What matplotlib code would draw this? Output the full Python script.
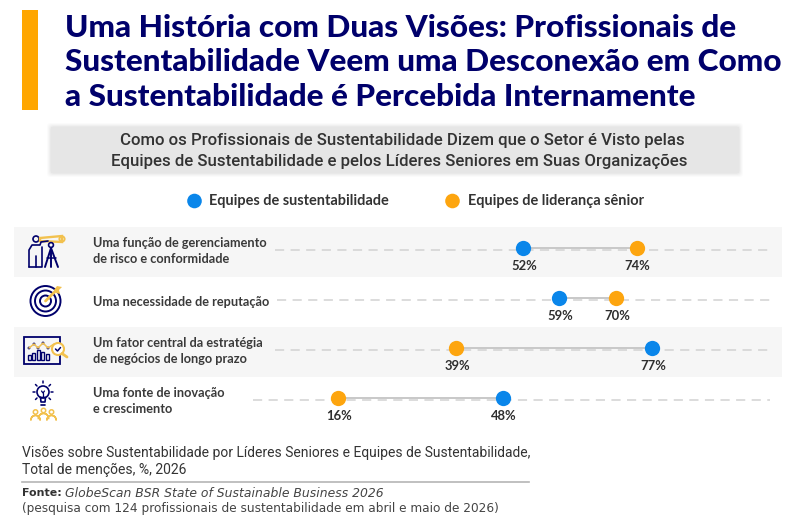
import matplotlib
matplotlib.use("Agg")
import matplotlib.pyplot as plt
from matplotlib.patches import Rectangle, Circle, FancyBboxPatch, Polygon, Wedge

# ---- data ----
categories = ["Uma função de gerenciamento\nde risco e conformidade",
              "Uma necessidade de reputação",
              "Um fator central da estratégia\nde negócios de longo prazo",
              "Uma fonte de inovação\ne crescimento"]
sustainability = [52, 59, 77, 48]
leadership = [74, 70, 39, 16]
series_names = ["Equipes de sustentabilidade", "Equipes de liderança sênior"]
title_lines = ["Uma História com Duas Visões: Profissionais de",
               "Sustentabilidade Veem uma Desconexão em Como",
               "a Sustentabilidade é Percebida Internamente"]
subtitle = ["Como os Profissionais de Sustentabilidade Dizem que o Setor é Visto pelas",
            "Equipes de Sustentabilidade e pelos Líderes Seniores em Suas Organizações"]

BLUE, ORANGE, NAVY, GOLD = "#0A86EA", "#FDA50F", "#00006B", "#F2C14E"
W, H = 795, 530
fig = plt.figure(figsize=(W/100, H/100), dpi=100, facecolor="white")

# pixel canvas for page furniture
pg = fig.add_axes([0, 0, 1, 1], zorder=1)
pg.set_xlim(0, W); pg.set_ylim(H, 0); pg.axis("off")

# data axes: x in percent, y row index
X0, PX = 255.6, 5.15
ax = fig.add_axes([0, 0, 1, 1], zorder=2)
ax.set_xlim((0 - X0)/PX, (W - X0)/PX)
Y0, RH = 248.0, 50.0
ax.set_ylim((H - Y0)/RH, (0 - Y0)/RH)
ax.axis("off"); ax.patch.set_alpha(0)

def px(size):
    return size*0.72

# title
pg.add_patch(Rectangle((22, 10), 16, 100, fc="#FFA600", ec="none"))
for y, line in zip([28, 62, 96.5], title_lines):
    pg.text(65, y, line, fontsize=px(31.5), family="Lato", weight="black", color=NAVY, va="center", ha="left")

# subtitle box with soft shadow
for g, a in [(8, .05), (6, .07), (4, .09), (2, .12)]:
    pg.add_patch(FancyBboxPatch((51-g/2, 127-g/2), 688+g, 46+g, boxstyle="round,pad=0,rounding_size=4",
                                fc="#BBBBBB", ec="none", alpha=a))
pg.add_patch(Rectangle((51, 127), 688, 46, fc="#E6E6E6", ec="none"))
for y, cx, s in zip([141, 161.5], [402, 399.5], subtitle):
    pg.text(cx, y, s, fontsize=px(16.75), family="Roboto", weight="medium", color="#333333", ha="center", va="center")

# legend
for x, tx, col, name in zip([194.5, 452.5], [209, 468], [BLUE, ORANGE], series_names):
    pg.add_patch(Circle((x, 201), 7.3, fc=col, ec="none"))
    pg.text(tx, 201, name, fontsize=px(14.5), family="Lato", weight="bold", color="#333333", va="center", ha="left")

# row bands
for y0 in [227, 327]:
    pg.add_patch(Rectangle((14, y0), 768, 49.5, fc="#F6F6F6", ec="none"))

# row labels and dashed guides
dash_start = [275, 277, 275, 253]
for i, (c, ds) in enumerate(zip(categories, dash_start)):
    yc = 250 + i*50
    pg.text(93, yc + (1 if i != 1 else 2), c, fontsize=px(12.7), family="Lato", weight="bold", color="#3A3A3A",
            va="center", ha="left", linespacing=1.36)
    pg.plot([ds, 770], [yc + .3]*2, color="#D2D2D2", lw=1.1, dashes=(6, 4.2))

# data
for i, (s, l) in enumerate(zip(sustainability, leadership)):
    ax.plot([s, l], [i, i], color="#C8C8C8", lw=1.4, zorder=2, solid_capstyle="butt")
    for v, col in ((s, BLUE), (l, ORANGE)):
        ax.plot([v], [i], "o", ms=11, color=col, mec="white", mew=0, zorder=3)
        ax.annotate(f"{v}%", (v, i), xytext=(1, -17.5), textcoords="offset pixels", ha="center", va="center",
                    fontsize=px(13), family="Lato", weight="bold", color="#2E2E2E", zorder=4)

# ---- icons ----
def L(xs, ys, c=NAVY, lw=1.3):
    pg.plot(xs, ys, color=c, lw=lw, solid_capstyle="round", solid_joinstyle="round")
def C(x, y, r, c=NAVY, lw=1.3, fc="none"):
    pg.add_patch(Circle((x, y), r, fc=fc, ec=c, lw=lw))

# icon 1: person with telescope on tripod
C(36, 239, 3, lw=1.2)
L([29, 29, 32, 40, 41, 48], [267, 250, 245, 245, 242, 241], lw=1.2)
L([42, 42, 29], [247, 267, 267], lw=1.2)
L([35.5, 35.5], [256, 267], lw=1.2)
pg.add_patch(Polygon([[40, 238], [62, 236], [62, 242], [40, 241]], fc="none", ec=GOLD, lw=1.7))
C(62, 239, 2.6, c=GOLD, lw=1.4)
C(51, 245, 2.4, lw=1.2)
L([51, 45], [248, 267], lw=1.4); L([51, 58], [248, 267], lw=1.4); L([51, 51], [248, 267], lw=1.4)
L([47, 56], [258, 258], lw=1.1)

# icon 2: target with arrow
for r, lw in [(15, 1.4), (10.5, 1.4), (5.5, 1.4)]:
    C(45.5, 301, r, lw=lw)
L([45.5, 56], [301, 290.5], c=GOLD, lw=2)
pg.add_patch(Polygon([[54, 290], [57, 286], [62, 287], [59, 290], [60, 294], [56, 293]], fc=GOLD, ec="none"))

# icon 3: chart board with magnifier
pg.add_patch(Rectangle((24, 337), 36, 27, fc="none", ec=NAVY, lw=1.3))
for x, h in [(29, 5), (33.5, 7), (38, 10), (42.5, 8), (47, 6)]:
    pg.add_patch(Rectangle((x - 1.5, 360 - h), 3, h, fc="none", ec=NAVY, lw=1))
L([29, 34, 38, 43, 48, 54], [348, 344, 348, 343, 348, 344], c=GOLD, lw=1.1)
for x, y in [(29, 348), (34, 344), (38, 348), (43, 343), (48, 348)]:
    C(x, y, 1, fc=NAVY, lw=.6)
C(58, 349, 6, c=GOLD, lw=1.5, fc="white")
L([62, 67], [353.5, 357], c=GOLD, lw=2)
L([55.5, 57.5, 60.5], [349, 351, 347.5], lw=1.1)

# icon 4: bulb over people
C(43, 392, 6, lw=1.2)
L([40.5, 41, 45, 45.5, 40.5], [397.5, 402, 402, 397.5, 397.5], lw=1.2)
L([41, 45], [404.5, 404.5], lw=1.2)
L([41.5, 43, 44.5], [391, 393, 391], lw=.9); L([43, 43], [393, 397], lw=.9)
for x0, y0, x1, y1 in [(43, 383, 43, 381), (35, 392, 33, 392), (51, 392, 53, 392), (37, 386, 35.5, 384.5),
                       (49, 386, 50.5, 384.5), (37, 398, 35.5, 399.5), (49, 398, 50.5, 399.5)]:
    L([x0, x1], [y0, y1], lw=1.1)
for x, y, w in [(35.5, 412, 4), (43.5, 410.5, 4.5), (51.5, 412, 4)]:
    C(x, y, 2.2, c=GOLD, lw=1.1)
    pg.add_patch(Wedge((x, y + 8), w + .6, 180, 360, width=0.01, fc="none", ec=GOLD, lw=1.1))

# footer
pg.text(22, 453, "Visões sobre Sustentabilidade por Líderes Seniores e Equipes de Sustentabilidade,",
        fontsize=px(13.9), family="Roboto", color="#333333", va="center", ha="left")
pg.text(22, 470, "Total de menções, %, 2026", fontsize=px(13.9), family="Roboto", color="#333333", va="center", ha="left")
pg.plot([22, 529], [481.5, 481.5], color="#B5B5B5", lw=1.2)
pg.text(22, 493.5, "Fonte:", fontsize=px(11), family="DejaVu Sans", weight="bold", color="#333333", va="center", ha="left")
pg.text(65, 493.5, "GlobeScan BSR State of Sustainable Business 2026", fontsize=px(12.35), family="DejaVu Sans",
        style="italic", color="#444444", va="center", ha="left")
pg.text(22, 508.5, "(pesquisa com 124 profissionais de sustentabilidade em abril e maio de 2026)", fontsize=px(12.13),
        family="DejaVu Sans", color="#444444", va="center", ha="left")

fig.savefig("out.png", dpi=100, facecolor="white")
